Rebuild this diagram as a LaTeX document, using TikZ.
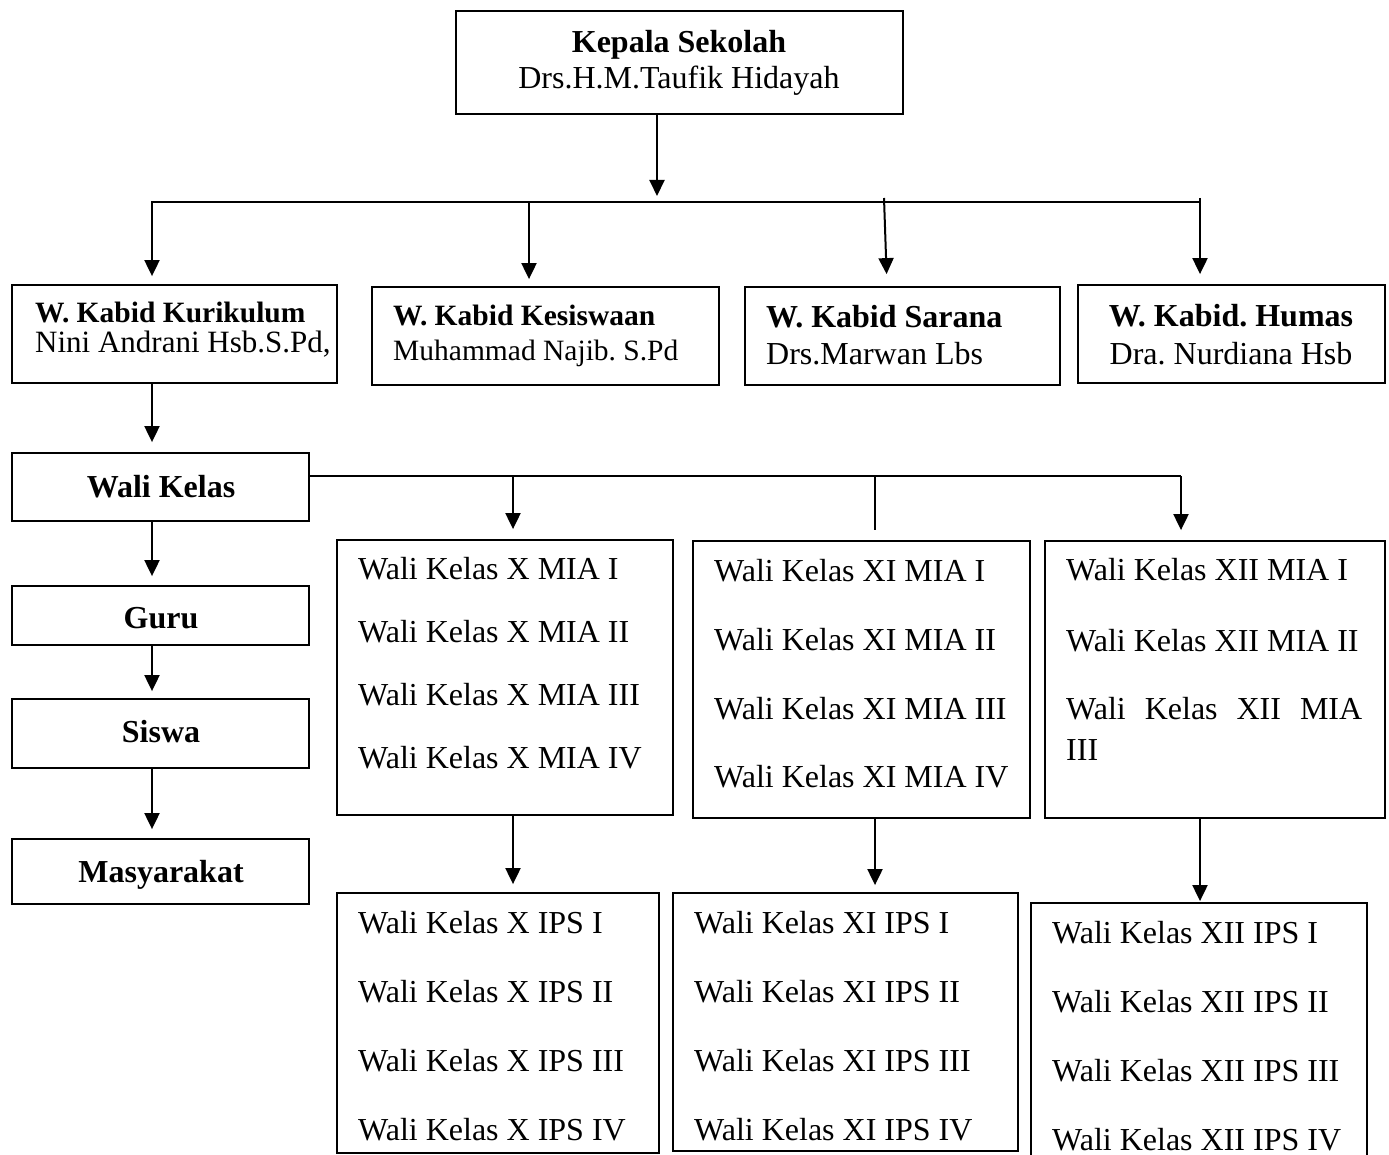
\documentclass[tikz,border=0pt]{standalone}
\usepackage{fontspec}
\setmainfont{Liberation Serif}
\usetikzlibrary{arrows.meta,fit,calc}
\frenchspacing
\begin{document}
\frenchspacing
\begin{tikzpicture}[x=1pt,y=-1pt,
  box/.style={draw,line width=1.8pt,inner sep=0pt,fit={#1}},
  lbl/.style={anchor=west,inner sep=0pt,text height=22pt,text depth=0pt,font=\fontsize{32pt}{38pt}\selectfont},
  clbl/.style={anchor=center,inner sep=0pt,text height=22pt,text depth=0pt,font=\fontsize{32pt}{38pt}\selectfont},
  bl/.style={lbl,font=\fontsize{32pt}{38pt}\selectfont\bfseries},
  cbl/.style={clbl,font=\fontsize{32pt}{38pt}\selectfont\bfseries},
  sbl/.style={lbl,text height=20pt,font=\fontsize{29.5pt}{36pt}\selectfont\bfseries},
  slbl/.style={lbl,text height=20pt,font=\fontsize{#1}{36pt}\selectfont},
  arr/.style={line width=2pt,-{Triangle[width=15pt,length=16pt]}},
  ln/.style={line width=2pt}]
\useasboundingbox[fill=white] (0,0) rectangle (1389,1155);
% boxes
\node[box={(456,11)(903,114)}] (kepala) {};
\node[box={(12,285)(337,383)}] (kur) {};
\node[box={(372,287)(719,385)}] (kes) {};
\node[box={(745,287)(1060,385)}] (sar) {};
\node[box={(1078,285)(1385,383)}] (hum) {};
\node[box={(12,453)(309,521)}] (wk) {};
\node[box={(12,586)(309,645)}] (guru) {};
\node[box={(12,699)(309,768)}] (siswa) {};
\node[box={(12,839)(309,904)}] (mas) {};
\node[box={(337,540)(673,815)}] (miax) {};
\node[box={(693,541)(1030,818)}] (miaxi) {};
\node[box={(1045,541)(1385,818)}] (miaxii) {};
\node[box={(337,893)(659,1153)}] (ipsx) {};
\node[box={(673,893)(1018,1151)}] (ipsxi) {};
\node[box={(1031,903)(1367,1175)}] (ipsxii) {};
% texts
\node[cbl] (t1) at (679,42) {Kepala Sekolah};
\node[clbl] (t2) at (679,78) {Drs.H.M.Taufik Hidayah};
\node[sbl] (t3) at (35,313) {W. Kabid Kurikulum};
\node[slbl=31pt] (t4) at (35,343) {Nini Andrani Hsb.S.Pd,};
\node[sbl] (t5) at (393,316) {W. Kabid Kesiswaan};
\node[slbl=29.5pt] (t6) at (393,350) {Muhammad Najib. S.Pd};
\node[bl] (t7) at (766,317) {W. Kabid Sarana};
\node[lbl] (t8) at (766,354) {Drs.Marwan Lbs};
\node[cbl] (t9) at (1231,316) {W. Kabid. Humas};
\node[clbl] (t10) at (1231,354) {Dra. Nurdiana Hsb};
\node[cbl] (t11) at (161,486) {Wali Kelas};
\node[cbl] (t12) at (161,617) {Guru};
\node[cbl] (t13) at (161,731) {Siswa};
\node[cbl] (t14) at (161,871) {Masyarakat};
\node[lbl] (a1) at (358,568) {Wali Kelas X MIA I};
\node[lbl] (a2) at (358,631) {Wali Kelas X MIA II};
\node[lbl] (a3) at (358,694) {Wali Kelas X MIA III};
\node[lbl] (a4) at (358,757) {Wali Kelas X MIA IV};
\node[lbl] (b1) at (714,570) {Wali Kelas XI MIA I};
\node[lbl] (b2) at (714,639) {Wali Kelas XI MIA II};
\node[lbl] (b3) at (714,708) {Wali Kelas XI MIA III};
\node[lbl] (b4) at (714,776) {Wali Kelas XI MIA IV};
\node[lbl] (c1) at (1066,569) {Wali Kelas XII MIA I};
\node[lbl] (c2) at (1066,640) {Wali Kelas XII MIA II};
\node[lbl] (c3) at (1066,708) {\makebox[296pt][s]{Wali Kelas XII MIA}};
\node[lbl] (c4) at (1066,749) {III};
\node[lbl] (d1) at (358,922) {Wali Kelas X IPS I};
\node[lbl] (d2) at (358,991) {Wali Kelas X IPS II};
\node[lbl] (d3) at (358,1060) {Wali Kelas X IPS III};
\node[lbl] (d4) at (358,1129) {Wali Kelas X IPS IV};
\node[lbl] (e1) at (694,922) {Wali Kelas XI IPS I};
\node[lbl] (e2) at (694,991) {Wali Kelas XI IPS II};
\node[lbl] (e3) at (694,1060) {Wali Kelas XI IPS III};
\node[lbl] (e4) at (694,1129) {Wali Kelas XI IPS IV};
\node[lbl] (f1) at (1052,932) {Wali Kelas XII IPS I};
\node[lbl] (f2) at (1052,1001) {Wali Kelas XII IPS II};
\node[lbl] (f3) at (1052,1070) {Wali Kelas XII IPS III};
\node[lbl] (f4) at (1052,1139) {Wali Kelas XII IPS IV};
% connector coordinates
\coordinate (bus1) at (657,202);
\coordinate (bl1) at (151,202);
\coordinate (br1) at (1201,202);
\coordinate (bus2) at (309,476);
\coordinate (br2) at (1181,476);
\coordinate (xl) at (152,202);
\coordinate (j1) at (529,202);
\coordinate (j2) at (884,198);
\coordinate (j3) at (1200,198);
\coordinate (k1) at (513,476);
\coordinate (k2) at (875,476);
\coordinate (sarx) at (887,0);
\coordinate (xr) at (1200,0);
% connectors
\draw[arr,shorten >=6pt] (kepala.south -| bus1) -- (bus1);
\draw[ln] (bl1) -- (br1);
\draw[arr,shorten >=8pt] (xl) -- (kur.north -| xl);
\draw[arr,shorten >=7pt] (j1) -- (kes.north -| j1);
\draw[arr,shorten >=12pt] (j2) -- (sar.north -| sarx);
\draw[arr,shorten >=10pt] (j3) -- (hum.north -| j3);
\draw[arr,shorten >=10pt] (kur.south -| xl) -- (wk.north -| xl);
\draw[ln] (wk.east |- bus2) -- (br2);
\draw[arr,shorten >=10pt] (k1) -- (miax.north -| k1);
\draw[ln] (k2) -- ($(miaxi.north -| k2)+(0,-10)$);
\draw[arr,shorten >=10pt] (br2) -- (miaxii.north -| br2);
\draw[arr,shorten >=9pt] (wk.south -| xl) -- (guru.north -| xl);
\draw[arr,shorten >=7pt] (guru.south -| xl) -- (siswa.north -| xl);
\draw[arr,shorten >=9pt] (siswa.south -| xl) -- (mas.north -| xl);
\draw[arr,shorten >=8pt] (miax.south -| k1) -- (ipsx.north -| k1);
\draw[arr,shorten >=7pt] (miaxi.south -| k2) -- (ipsxi.north -| k2);
\draw[arr,shorten >=1pt] (miaxii.south -| xr) -- (ipsxii.north -| xr);
\end{tikzpicture}
\end{document}
